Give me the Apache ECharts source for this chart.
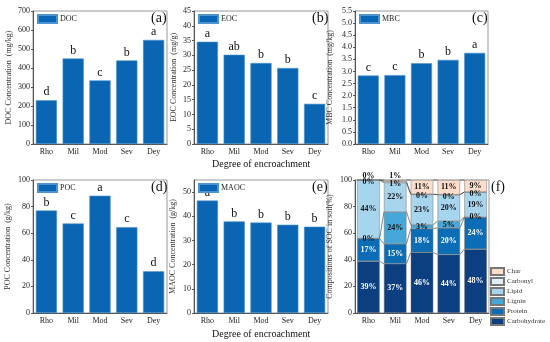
<!DOCTYPE html>
<html><head><meta charset="utf-8">
<script src="https://cdn.jsdelivr.net/npm/echarts@6/dist/echarts.min.js"></script>
<style>html,body{margin:0;padding:0;background:#fff}#c{width:550px;height:342px}</style>
</head><body><div id="c"></div>
<script>
const cats = ['Rho','Mil','Mod','Sev','Dey'];
const doc = [230,450,335,440,548];
const docLetters = ['d','b','c','b','a'];
const eoc = [34.6,30.2,27.4,25.7,13.6];
const eocLetters = ['a','ab','b','b','c'];
const mbc = [2.83,2.85,3.34,3.48,3.77];
const mbcLetters = ['c','c','b','b','a'];
const poc = [77.1,67.3,88.2,64.6,31.4];
const pocLetters = ['b','c','a','c','d'];
const maoc = [46.5,37.9,37.4,36.5,35.7];
const maocLetters = ['a','b','b','b','b'];
// composition of SOC (%)
const carbohydrate = [39,37,45.6,44,48];
const protein = [17,15,17.8,20,24];
const lignin = [0,24,3.0,5,0];
const lipid = [44,22,22.7,20,19];
const carbonyl = [0,1,0.3,0,0];
const charc = [0,1,10.6,11,9];
const compNames = ['Carbohydrate','Protein','Lignin','Lipid','Carbonyl','Char'];
const compData = [carbohydrate,protein,lignin,lipid,carbonyl,charc];
const compColors = ['#0c3f80','#0a6db5','#45a8d8','#a8d5ee','#e0f0f8','#fcdccb'];
const compLabelColors = ['#fff','#fff','#111','#111','#111','#111'];

const FONT = 'Liberation Serif';
const BLUE = '#0a66b2';
const grids = [
  {left:33, top:11, width:134, height:133},
  {left:194, top:11, width:134, height:133},
  {left:355, top:11, width:133, height:133},
  {left:33, top:180, width:134, height:133},
  {left:194, top:180, width:134, height:133},
  {left:355, top:180, width:134, height:133}
];
const yCfg = [
  {name:'DOC Concentration  (mg/kg)', max:700, interval:100, gap:20},
  {name:'EOC Concentration  (mg/g)', max:45, interval:5, gap:16},
  {name:'MBC Concentration  (mg/kg)', max:5.5, interval:0.5, gap:21, fmt:v=>v.toFixed(1)},
  {name:'POC Concentration  (g/kg)', max:100, interval:20, gap:21},
  {name:'MAOC Concentration  (g/kg)', max:55, interval:10, gap:17, hideMax:true},
  {name:'Compositions of SOC in soil(%)', max:100, interval:20, gap:21}
];
const axisLine = {lineStyle:{color:'#555', width:1}};
const xAxes = grids.map((g,i)=>({
  type:'category', gridIndex:i, data:cats,
  axisLine, axisTick:{alignWithLabel:true, length:2, lineStyle:{color:'#555'}},
  axisLabel:{fontFamily:FONT, fontSize:8, color:'#222', margin:4}
}));
const yAxes = yCfg.map((c,i)=>({
  type:'value', gridIndex:i, min:0, max:c.max, interval:c.interval,
  name:c.name, nameLocation:'middle', nameGap:c.gap,
  nameTextStyle:{fontFamily:FONT, fontSize:8, color:'#333'},
  axisLine:{show:true, lineStyle:{color:'#555'}},
  axisTick:{show:true, length:2, lineStyle:{color:'#555'}},
  splitLine:{show:false},
  axisLabel:{fontFamily:FONT, fontSize:8, color:'#222', margin:3, showMaxLabel: c.hideMax ? false : true,
    formatter: c.fmt ? c.fmt : (v=>String(v))}
}));

function simpleBar(name, data, letters, idx){
  return {
    type:'bar', name, data, xAxisIndex:idx, yAxisIndex:idx, barCategoryGap:'21%',
    itemStyle:{color:BLUE, borderColor:'#4d93cf', borderWidth:0.6},
    label:{show:true, position:'top', distance:2, fontFamily:FONT, fontSize:12, color:'#111',
      formatter:p=>letters[p.dataIndex]}
  };
}
const series = [
  simpleBar('DOC', doc, docLetters, 0),
  simpleBar('EOC', eoc, eocLetters, 1),
  simpleBar('MBC', mbc, mbcLetters, 2),
  simpleBar('POC', poc, pocLetters, 3),
  simpleBar('MAOC', maoc, maocLetters, 4)
];
compNames.forEach((n,k)=>{
  series.push({
    type:'bar', name:n, stack:'comp', xAxisIndex:5, yAxisIndex:5, barCategoryGap:'16%',
    data: compData[k].map(v=>{
      const item = {value:v};
      if (n==='Char' && v<3) item.label = {position:'top', distance:0, offset:[0,0]};
      return item;
    }),
    itemStyle:{color:compColors[k], borderColor:'#777', borderWidth:0.5},
    label:{show:true, position:'inside', fontFamily:FONT, fontSize:8, fontWeight:'bold',
      color:compLabelColors[k], offset: n==='Carbonyl' ? [0,2] : [0,0],
      formatter:p=>Math.round(p.value)+'%'}
  });
});
function cumAt(i){
  const out=[]; let s=0;
  for(let k=0;k<compData.length;k++){ s+=compData[k][i]; out.push(s); }
  return out;
}
series.push({
  type:'custom', xAxisIndex:5, yAxisIndex:5, z:10, silent:true,
  data:[0,1,2,3].map(i=>[i,0]), encode:{x:0,y:1},
  renderItem(params, api){
    const i = params.dataIndex;
    const c0 = cumAt(i), c1 = cumAt(i+1);
    const hw = api.size([1,0])[0]*0.84/2;
    const children = c0.map((v,k)=>{
      const p0 = api.coord([i, Math.min(v,100)]);
      const p1 = api.coord([i+1, Math.min(c1[k],100)]);
      return {type:'line', shape:{x1:p0[0]+hw, y1:p0[1], x2:p1[0]-hw, y2:p1[1]},
        style:{stroke:'#333', lineWidth:0.6}};
    });
    return {type:'group', children};
  }
});

function lg(name, left, top){
  return {data:[name], left, top, icon:'rect', itemWidth:19, itemHeight:8, itemGap:0, selectedMode:false,
    textStyle:{fontFamily:FONT, fontSize:8, color:'#222', padding:[0,0,0,-2]}, padding:0};
}
const legends = [
  lg('DOC',37,14), lg('EOC',198,14), lg('MBC',359,14), lg('POC',37,183), lg('MAOC',198,183),
  {data:['Char','Carbonyl','Lipid','Lignin','Protein','Carbohydrate'], orient:'vertical', icon:'rect',
   left:490, top:267, itemWidth:13, itemHeight:7, itemGap:1, selectedMode:false, padding:0,
   textStyle:{fontFamily:FONT, fontSize:7, color:'#333', padding:[0,0,0,-2]}}
];
function txt(t, left, top, size){
  return {type:'text', left, top, style:{text:t, fontFamily:FONT, fontSize:size, fill:'#111'}};
}
const graphics = [
  txt('(a)',151,11,14), txt('(b)',312,11,14), txt('(c)',472,11,14),
  txt('(d)',151,180,14), txt('(e)',312,180,14), txt('(f)',491,180,14),
  txt('Degree of encroachment',212,159,10), txt('Degree of encroachment',212,329,10)
];
const chart = echarts.init(document.getElementById('c'), null, {renderer:'canvas'});
chart.setOption({
  animation:false,
  grid: grids.map(g=>Object.assign({show:true, borderColor:'#999', borderWidth:1}, g)),
  xAxis:xAxes, yAxis:yAxes, series, legend:legends, graphic:graphics
});
</script></body></html>
